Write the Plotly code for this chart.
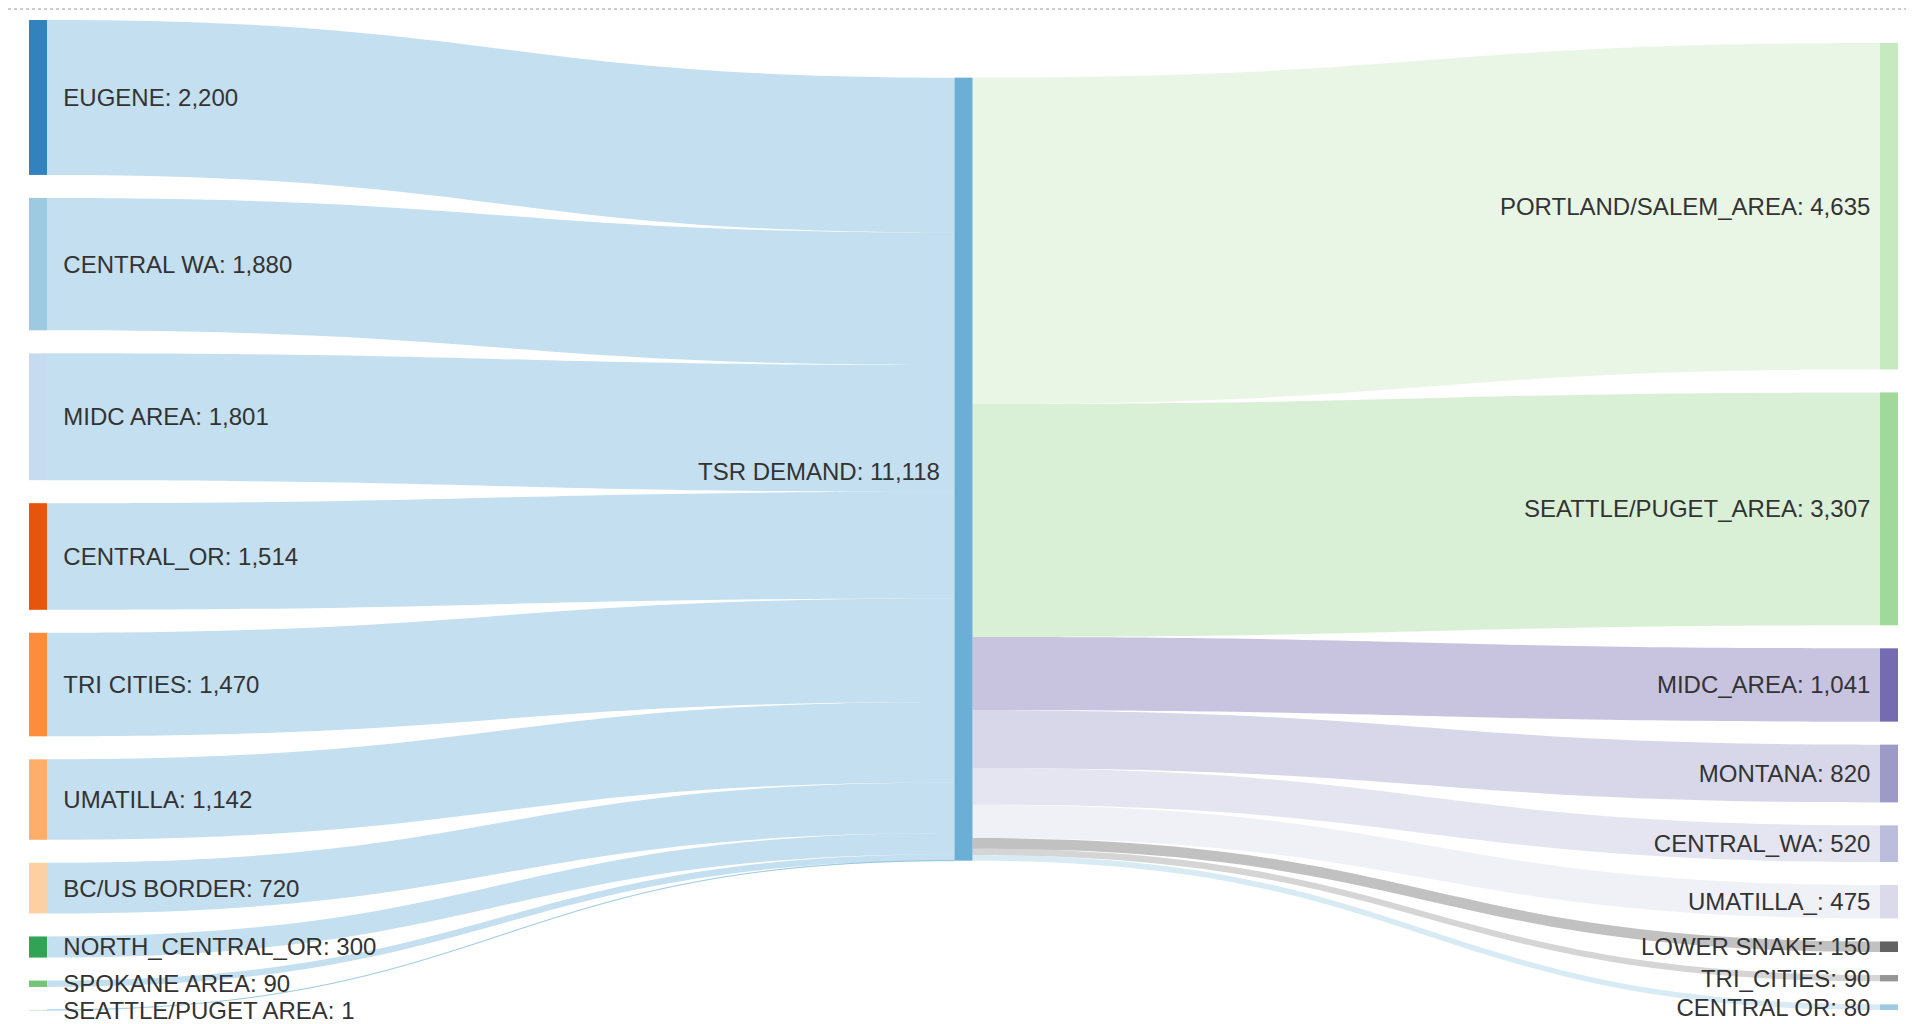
import plotly.graph_objects as go

# ---- data ----
source_names = ["EUGENE", "CENTRAL WA", "MIDC AREA", "CENTRAL_OR", "TRI CITIES",
                "UMATILLA", "BC/US BORDER", "NORTH_CENTRAL_OR", "SPOKANE AREA",
                "SEATTLE/PUGET AREA"]
source_values = [2200, 1880, 1801, 1514, 1470, 1142, 720, 300, 90, 1]
source_colors = ["#3182bd", "#9ecae1", "#c6dbef", "#e6550d", "#fd8d3c",
                 "#fdae6b", "#fdd0a2", "#31a354", "#74c476", "#a1d99b"]

hub_name = "TSR DEMAND"
hub_color = "#6baed6"

target_names = ["PORTLAND/SALEM_AREA", "SEATTLE/PUGET_AREA", "MIDC_AREA", "MONTANA",
                "CENTRAL_WA", "UMATILLA_", "LOWER SNAKE", "TRI_CITIES", "CENTRAL OR"]
target_values = [4635, 3307, 1041, 820, 520, 475, 150, 90, 80]
target_colors = ["#c7e9c0", "#a1d99b", "#756bb1", "#9e9ac8", "#bcbddc",
                 "#dadaeb", "#636363", "#969696", "#9ecae1"]

# ---- style ----
LINK_ALPHA = 0.4
FIG_W, FIG_H = 1906, 1016          # page body adds an 8px margin
M_L, M_R, M_T, M_B = 21, 16, 12, 14
NODE_PAD = 23
NODE_THICK = 18
FONT = dict(family="Liberation Sans, Arial, sans-serif", size=24, color="#333333")
GAP_L = "\u00a0\u00a0"
GAP_R = "\u00a0"


def rgba(hex_color, a):
    h = hex_color.lstrip("#")
    r, g, b = int(h[0:2], 16), int(h[2:4], 16), int(h[4:6], 16)
    return f"rgba({r},{g},{b},{a})"


hub_value = sum(source_values)

src_labels = [f"{GAP_L}{n}: {v:,}" for n, v in zip(source_names, source_values)]
tgt_labels = [f"{n}: {v:,}{GAP_R}" for n, v in zip(target_names, target_values)]
labels = src_labels + [""] + tgt_labels
node_colors = source_colors + [hub_color] + target_colors

hub_idx = len(source_names)
link_source, link_target, link_value, link_color = [], [], [], []
for i, v in enumerate(source_values):
    link_source.append(i)
    link_target.append(hub_idx)
    link_value.append(v)
    link_color.append(rgba(hub_color, LINK_ALPHA))
for j, v in enumerate(target_values):
    link_source.append(hub_idx)
    link_target.append(hub_idx + 1 + j)
    link_value.append(v)
    link_color.append(rgba(target_colors[j], LINK_ALPHA))

fig = go.Figure(go.Sankey(
    arrangement="snap",
    node=dict(
        label=labels,
        color=node_colors,
        pad=NODE_PAD,
        thickness=NODE_THICK,
        line=dict(width=0),
    ),
    link=dict(
        source=link_source,
        target=link_target,
        value=link_value,
        color=link_color,
        line=dict(width=0),
    ),
    textfont=dict(**FONT, shadow="none"),
))

# hub label placed on the left side of the hub node (as in the reference)
plot_w = FIG_W - M_L - M_R
plot_h = FIG_H - M_T - M_B
ky = (plot_h - (len(source_values) - 1) * NODE_PAD) / hub_value
y = 0.0
weighted = 0.0
for v in source_values:
    h = v * ky
    weighted += v * (y + h / 2)
    y += h + NODE_PAD
hub_center = weighted / hub_value
hub_label_x = ((plot_w - NODE_THICK) / 2 - 13) / plot_w
hub_label_y = 1 - hub_center / plot_h

fig.update_layout(
    width=FIG_W,
    height=FIG_H,
    margin=dict(l=M_L, r=M_R, t=M_T, b=M_B),
    paper_bgcolor="white",
    plot_bgcolor="white",
    annotations=[dict(
        text=f"{hub_name}: {hub_value:,}",
        xref="paper", yref="paper",
        x=hub_label_x, y=hub_label_y,
        xanchor="right", yanchor="middle",
        showarrow=False,
        font=FONT,
    )],
    shapes=[dict(type="line", xref="paper", yref="paper",
                 x0=-M_L / plot_w, x1=1 + M_R / plot_w,
                 y0=1 + (M_T - 1) / plot_h, y1=1 + (M_T - 1) / plot_h,
                 line=dict(color="#9a9a9a", width=1, dash="dot"))],
)

fig.write_html("out.html")
